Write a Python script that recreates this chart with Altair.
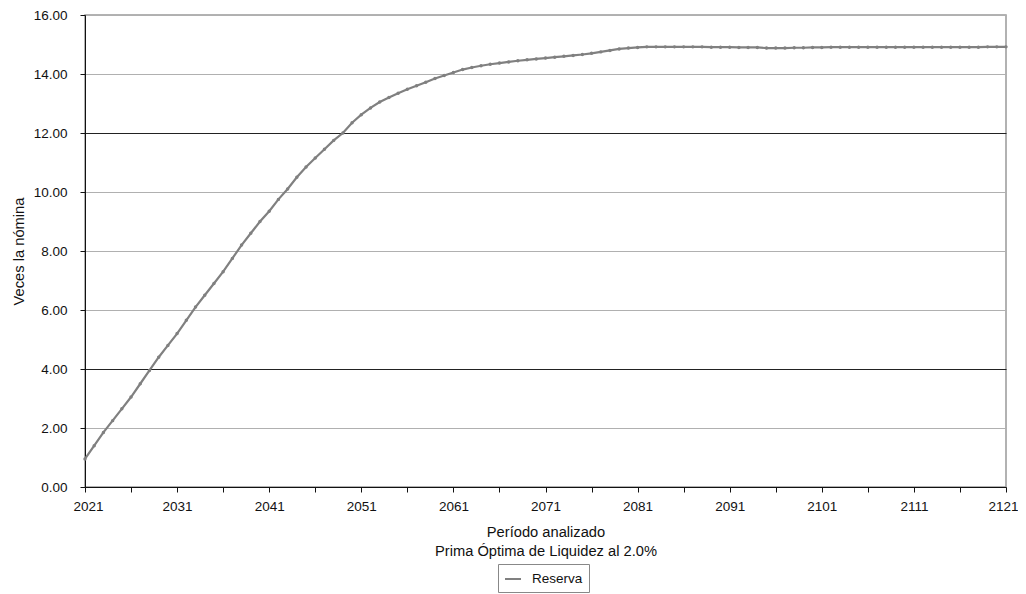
import altair as alt
import pandas as pd

years = list(range(2021, 2122))
reserva = [
    0.95, 1.40, 1.85, 2.25, 2.65, 3.05, 3.50, 3.95, 4.40, 4.80,
    5.20, 5.65, 6.10, 6.50, 6.90, 7.30, 7.75, 8.20, 8.60, 9.00,
    9.35, 9.75, 10.10, 10.50, 10.85, 11.15, 11.45, 11.75, 12.00, 12.35,
    12.62, 12.85, 13.05, 13.20, 13.35, 13.48, 13.60, 13.72, 13.85, 13.95,
    14.05, 14.15, 14.22, 14.28, 14.33, 14.37, 14.41, 14.45, 14.48, 14.51,
    14.54, 14.57, 14.60, 14.63, 14.66, 14.70, 14.75, 14.80, 14.85, 14.88,
    14.90, 14.92, 14.92, 14.92, 14.92, 14.92, 14.92, 14.92, 14.91, 14.91,
    14.91, 14.90, 14.90, 14.90, 14.88, 14.88, 14.88, 14.89, 14.89, 14.90,
    14.90, 14.91, 14.91, 14.91, 14.91, 14.91, 14.91, 14.91, 14.91, 14.91,
    14.91, 14.91, 14.91, 14.91, 14.91, 14.91, 14.91, 14.91, 14.92, 14.92,
    14.92,
]
serie = ["Reserva"] * len(years)
x_ticks = list(range(2021, 2122, 5))
y_ticks = [0, 2, 4, 6, 8, 10, 12, 14, 16]

df = pd.DataFrame({"anio": years, "valor": reserva, "serie": serie})

font = "Liberation Sans"

chart = alt.Chart(df).mark_line(
    color="#808080", strokeWidth=2.2,
    point=alt.OverlayMarkDef(filled=True, size=12, color="#8a8a8a")
).encode(
    x=alt.X("anio:Q", scale=alt.Scale(domain=[2021, 2121], nice=False, zero=False),
            axis=alt.Axis(values=x_ticks, grid=False,
                          labelExpr="(datum.value - 2021) % 10 == 0 ? datum.value : ''",
                          title=["Período analizado", "Prima Óptima de Liquidez al 2.0%"],
                          titleFontWeight="normal", titleFontSize=14.7, titleFont=font,
                          titleColor="#111", titlePadding=12, titleLineHeight=19,
                          labelFont=font, labelFontSize=13.5, labelColor="#111",
                          domainColor="#111", tickColor="#111", tickSize=5,
                          labelPadding=7, labelFlush=True, labelFlushOffset=12)),
    y=alt.Y("valor:Q", scale=alt.Scale(domain=[0, 16], nice=False),
            axis=alt.Axis(values=y_ticks, format=".2f",
                          title="Veces la nómina", titleFontWeight="normal",
                          titleFontSize=14.7, titleFont=font, titleColor="#111",
                          titlePadding=7,
                          labelFont=font, labelFontSize=13.5, labelColor="#111",
                          domainColor="#111", tickColor="#111", tickSize=5,
                          labelPadding=13,
                          gridColor=alt.condition("datum.value == 4 || datum.value == 12",
                                                  alt.value("#222222"), alt.value("#b0b0b0")),
                          gridWidth=1.2)),
    color=alt.Color("serie:N", scale=alt.Scale(range=["#808080"]),
                    legend=alt.Legend(orient="none", legendX=413, legendY=549,
                                      title=None, strokeColor="#888", padding=6,
                                      labelFont=font, labelFontSize=13.5, labelColor="#111",
                                      symbolType="stroke", symbolStrokeWidth=2,
                                      symbolSize=256, labelOffset=10,
                                      fillColor="white")),
).properties(
    width=921, height=472,
    autosize=alt.AutoSizeParams(type="none"),
    padding={"left": 77, "top": 7, "right": 12, "bottom": 107},
).configure_view(stroke="#999999", strokeWidth=1.5)

chart.save("out.html", embed_options={"renderer": "svg", "actions": False})
